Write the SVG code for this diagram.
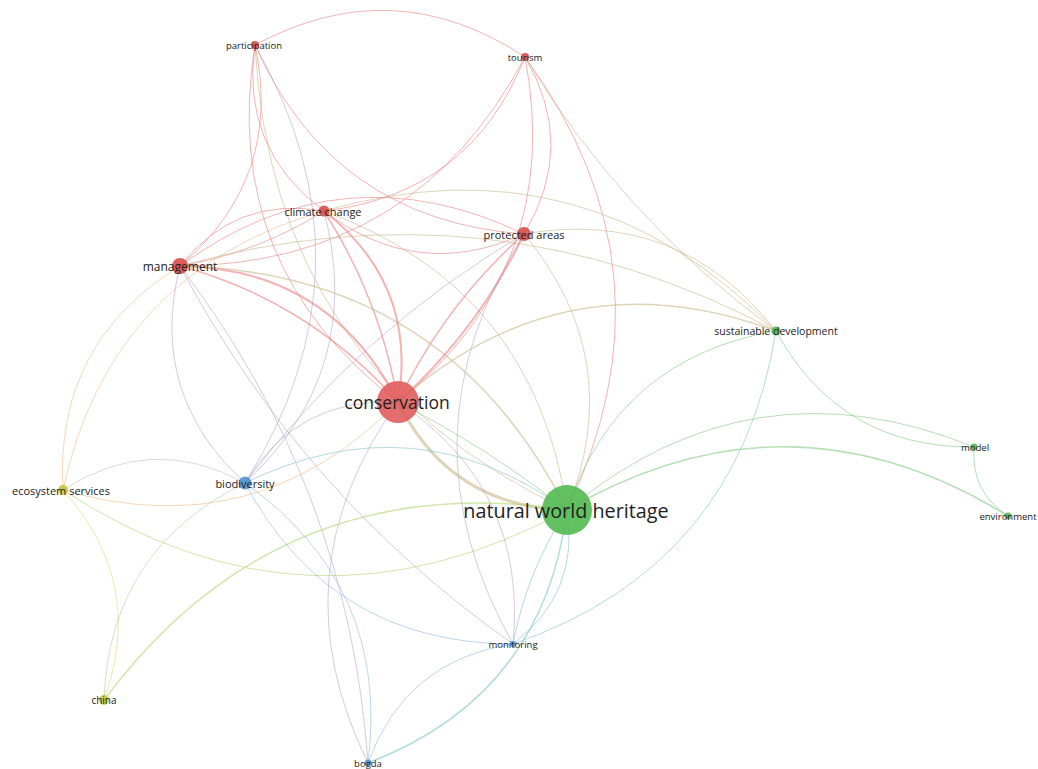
<svg xmlns="http://www.w3.org/2000/svg" width="1038" height="769" viewBox="0 0 1038 769">
  <style>
    .e { fill: none; stroke-width: 1; stroke-linecap: round; }
    .rr { stroke: #ec8080; stroke-opacity: .6; }
    .rg { stroke: #c2b07e; stroke-opacity: .55; }
    .rb { stroke: #a996bb; stroke-opacity: .5; }
    .ry { stroke: #efb57a; stroke-opacity: .55; }
    .gg { stroke: #78c478; stroke-opacity: .55; }
    .gb { stroke: #74bcc4; stroke-opacity: .55; }
    .gy { stroke: #b0d672; stroke-opacity: .6; }
    .bb { stroke: #86b4e2; stroke-opacity: .55; }
    .by { stroke: #acc8a4; stroke-opacity: .55; }
    .yy { stroke: #dcdc74; stroke-opacity: .6; }
    .w15 { stroke-width: 1.5; }
    .w2 { stroke-width: 2; }
    .w3 { stroke-width: 3; }
    .red { fill: #d94848; fill-opacity: .88; }
    .green { fill: #4db84d; fill-opacity: .88; }
    .blue { fill: #4a90d0; fill-opacity: .88; }
    .yellow { fill: #c3c43a; fill-opacity: .88; }
    text { font-family: "Open Sans", "Noto Sans", "DejaVu Sans", sans-serif; fill: #222222; text-anchor: middle; dominant-baseline: central; }
  </style>
  <rect width="1038" height="769" fill="#ffffff"/>

  <g id="connectors">
    <path class="e rr" d="M255 45 Q393.6 -30 525 57"/>
    <path class="e rr" d="M255 45 Q283.8 178 180 266"/>
    <path class="e rr" d="M324 211 Q239.7 148.7 255 45"/>
    <path class="e rr" d="M398 402 Q219.4 266.4 255 45"/>
    <path class="e rr" d="M524 234 Q332.8 220.2 255 45"/>
    <path class="e rg" d="M567 510 Q271.5 371.1 255 45"/>
    <path class="e rb" d="M255 45 Q381.4 267 245 483"/>
    <path class="e rr" d="M525 57 Q415.2 265 180 266"/>
    <path class="e rr" d="M525 57 Q470.7 194.3 324 211"/>
    <path class="e rr" d="M525 57 Q577.6 145.8 524 234"/>
    <path class="e rr" d="M525 57 Q565 267.6 398 402"/>
    <path class="e rr" d="M525 57 Q681.9 270.9 567 510"/>
    <path class="e rg" d="M776 331 Q623 219 525 57"/>
    <path class="e rr" d="M180 266 Q235.5 195.3 324 211"/>
    <path class="e rr" d="M324 211 Q257.5 252.9 180 266"/>
    <path class="e rr" d="M524 234 Q417.1 282.5 324 211"/>
    <path class="e rr" d="M180 266 Q342.4 146.8 524 234"/>
    <path class="e rr w2" d="M324 211 Q418.3 284.3 398 402"/>
    <path class="e rr w15" d="M324 211 Q380.1 299.1 398 402"/>
    <path class="e rg" d="M324 211 Q535.2 287.6 567 510"/>
    <path class="e rg" d="M324 211 Q586 135.4 776 331"/>
    <path class="e rb" d="M324 211 Q366.1 370.7 245 483"/>
    <path class="e ry" d="M63 490 Q109.8 272.2 324 211"/>
    <path class="e rr w2" d="M524 234 Q477.8 330.6 398 402"/>
    <path class="e rr w15" d="M398 402 Q444.2 305.4 524 234"/>
    <path class="e rg" d="M524 234 Q628.3 359.1 567 510"/>
    <path class="e rg" d="M524 234 Q679.1 206.9 776 331"/>
    <path class="e rb" d="M245 483 Q359.6 330.6 524 234"/>
    <path class="e rr w2" d="M180 266 Q329.8 268.6 398 402"/>
    <path class="e rr w15" d="M180 266 Q309.4 301.3 398 402"/>
    <path class="e rg w15" d="M180 266 Q446.7 271.9 567 510"/>
    <path class="e rb" d="M245 483 Q147.4 394 180 266"/>
    <path class="e ry" d="M63 490 Q54.3 342.9 180 266"/>
    <path class="e rb" d="M513 644 Q301.1 495 180 266"/>
    <path class="e rb" d="M180 266 Q348.6 486.3 368 763"/>
    <path class="e rg" d="M180 266 Q491 179.3 776 331"/>
    <path class="e rg w3" d="M567 510 Q450.1 506.7 398 402"/>
    <path class="e gg" d="M398 402 Q487.9 447.6 567 510"/>
    <path class="e ry" d="M398 402 Q256.9 546.5 63 490"/>
    <path class="e rb" d="M245 483 Q297.2 396.6 398 402"/>
    <path class="e rb" d="M398 402 Q528.1 488.5 513 644"/>
    <path class="e rb" d="M368 763 Q274.7 573.5 398 402"/>
    <path class="e rg w15" d="M398 402 Q565.7 253.1 776 331"/>
    <path class="e gg" d="M567 510 Q617.8 357.8 776 331"/>
    <path class="e gg" d="M567 510 Q751.6 356.4 974 447"/>
    <path class="e gg w15" d="M567 510 Q789.3 380.7 1008 516"/>
    <path class="e gb" d="M567 510 Q580.2 593.2 513 644"/>
    <path class="e gb" d="M513 644 Q526.6 571.6 567 510"/>
    <path class="e gb w15" d="M567 510 Q543.4 696.2 368 763"/>
    <path class="e gb" d="M245 483 Q414.1 399.9 567 510"/>
    <path class="e gy" d="M567 510 Q309 651.2 63 490"/>
    <path class="e gy w15" d="M104 700 Q278.5 466.1 567 510"/>
    <path class="e gg" d="M974 447 Q840.2 448.4 776 331"/>
    <path class="e gb" d="M776 331 Q738.4 566.4 513 644"/>
    <path class="e gg" d="M1008 516 Q970.3 491.7 974 447"/>
    <path class="e bb" d="M368 763 Q404.8 660 513 644"/>
    <path class="e bb" d="M513 644 Q330.7 643.9 245 483"/>
    <path class="e bb" d="M245 483 Q390.5 586.1 368 763"/>
    <path class="e by" d="M63 490 Q151.9 431.9 245 483"/>
    <path class="e yy" d="M63 490 Q146.5 582.7 104 700"/>
    <path class="e by" d="M104 700 Q109.4 549.2 245 483"/>
    <path class="e rb" d="M513 644 Q395.5 435.7 524 234"/>
  </g>

  <g id="node-participation"><circle class="red" cx="255" cy="45" r="4"/><text x="254" y="45" font-size="9.5">participation</text></g>
  <g id="node-tourism"><circle class="red" cx="525" cy="57" r="4"/><text x="525" y="57" font-size="9.5">tourism</text></g>
  <g id="node-climate-change"><circle class="red" cx="324" cy="211" r="5.5"/><text x="323" y="211" font-size="11">climate change</text></g>
  <g id="node-protected-areas"><circle class="red" cx="524" cy="234" r="7"/><text x="524" y="234" font-size="11">protected areas</text></g>
  <g id="node-management"><circle class="red" cx="180" cy="266" r="8"/><text x="180" y="266" font-size="12">management</text></g>
  <g id="node-sustainable-development"><circle class="green" cx="776" cy="331" r="4.5"/><text x="776" y="331" font-size="10.5">sustainable development</text></g>
  <g id="node-conservation"><circle class="red" cx="398" cy="402" r="21" fill="#e05a5a" style="fill:#e05a5a" fill-opacity=".85"/><text x="397" y="402" font-size="17.5">conservation</text></g>
  <g id="node-natural-world-heritage"><circle class="green" cx="567" cy="510" r="25" fill-opacity=".85"/><text x="566" y="510" font-size="19.8">natural world heritage</text></g>
  <g id="node-biodiversity"><circle class="blue" cx="245" cy="483" r="6.5"/><text x="245" y="483" font-size="11">biodiversity</text></g>
  <g id="node-ecosystem-services"><circle class="yellow" cx="63" cy="490" r="5"/><text x="61" y="490" font-size="11">ecosystem services</text></g>
  <g id="node-model"><circle class="green" cx="974" cy="447" r="3.5"/><text x="975" y="447" font-size="9.5">model</text></g>
  <g id="node-environment"><circle class="green" cx="1008" cy="516" r="3.5"/><text x="1008" y="516" font-size="9.5">environment</text></g>
  <g id="node-monitoring"><circle class="blue" cx="513" cy="644" r="3"/><text x="513" y="644" font-size="9.5">monitoring</text></g>
  <g id="node-china"><circle class="yellow" cx="104" cy="700" r="5"/><text x="104" y="700" font-size="10">china</text></g>
  <g id="node-bogda"><circle class="blue" cx="368" cy="763" r="3.5"/><text x="368" y="763" font-size="9.5">bogda</text></g>
</svg>
